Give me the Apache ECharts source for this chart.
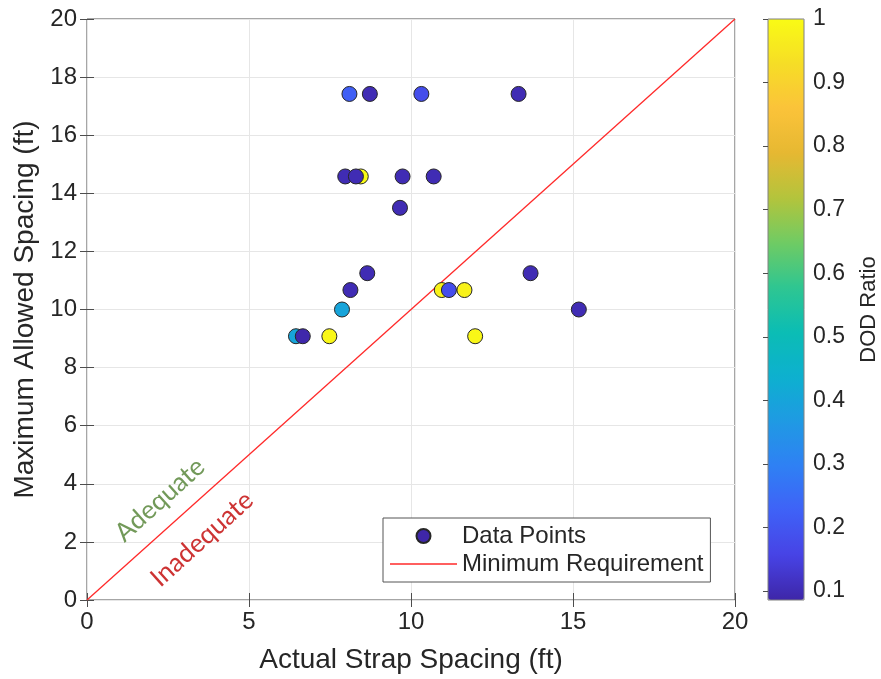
<!DOCTYPE html>
<html>
<head>
<meta charset="utf-8">
<script src="https://cdn.jsdelivr.net/npm/echarts@6/dist/echarts.min.js"></script>
<style>
  html, body { margin: 0; padding: 0; background: #fff; }
  #chart { width: 881px; height: 679px; }
</style>
</head>
<body>
<div id="chart"></div>
<script>
// données
const spacingActual = [8.10, 8.73, 10.32, 13.32, 7.97, 8.45, 8.30, 9.74, 10.70, 9.66, 8.65, 13.69, 8.13, 10.95, 11.17, 11.65, 7.87, 15.18, 6.45, 6.66, 7.48, 11.98];
const spacingAllowed = [17.42, 17.42, 17.42, 17.42, 14.58, 14.58, 14.58, 14.58, 14.58, 13.50, 11.25, 11.25, 10.67, 10.67, 10.67, 10.67, 10.00, 10.00, 9.08, 9.08, 9.08, 9.08];
const dodRatio = [0.22, 0.10, 0.18, 0.10, 0.10, 1.00, 0.10, 0.10, 0.10, 0.10, 0.10, 0.10, 0.10, 0.98, 0.18, 0.98, 0.40, 0.10, 0.40, 0.09, 0.99, 0.99];

const reqX = [0, 20];
const reqY = [0, 20];

const zoneNames = ['Adequate', 'Inadequate'];
const zoneX = [2.25, 3.55];
const zoneY = [3.45, 2.10];
const zoneColors = ['#4f7f2f', '#c00000'];

const dodTicks = [0.1, 0.2, 0.3, 0.4, 0.5, 0.6, 0.7, 0.8, 0.9, 1];
const dodMin = 0.086;
const dodMax = 1;

// palette type parula
const parula = ['#3e26a8', '#4743e5', '#3f62f7', '#2f80f4', '#1f9ae3', '#0db0cf', '#0bbdb4', '#2fc691', '#70cb63', '#b4c43c', '#e6b832', '#fbc33a', '#f6dd26', '#f9fb15'];

const points = spacingActual.map((x, i) => [x, spacingAllowed[i], dodRatio[i]]);
const reqLine = reqX.map((x, i) => [x, reqY[i]]);
const zoneLabels = zoneNames.map((n, i) => ({ value: [zoneX[i], zoneY[i]], name: n, color: zoneColors[i] }));

const font = 'Liberation Sans';
const axisCol = '#4d4d4d';
const textCol = '#262626';

const chart = echarts.init(document.getElementById('chart'));

const option = {
    animation: false,
    textStyle: { fontFamily: font },
    grid: [
        { left: 87, top: 19, width: 648, height: 582, show: true, borderColor: axisCol, borderWidth: 1, backgroundColor: '#fff' },
        { left: 768, top: 19, width: 36, height: 581, show: true, borderColor: '#808080', borderWidth: 1, backgroundColor: 'rgba(0,0,0,0)', z: 10 }
    ],
    xAxis: [
        {
            gridIndex: 0, type: 'value', min: 0, max: 20, interval: 5,
            name: 'Actual Strap Spacing (ft)', nameLocation: 'middle', nameGap: 46,
            nameTextStyle: { fontSize: 28, color: textCol, fontFamily: font },
            axisLine: { show: false },
            axisTick: { inside: true, length: 7, lineStyle: { color: axisCol } },
            axisLabel: { fontSize: 24, color: textCol, margin: 10, fontFamily: font },
            splitLine: { lineStyle: { color: '#e6e6e6' } }
        },
        {
            gridIndex: 0, type: 'value', position: 'top', min: 0, max: 20, interval: 5,
            axisLine: { show: false },
            axisTick: { inside: true, length: 7, lineStyle: { color: axisCol } },
            axisLabel: { show: false },
            splitLine: { show: false }
        },
        {
            gridIndex: 1, type: 'value', show: false, min: 0, max: 1
        }
    ],
    yAxis: [
        {
            gridIndex: 0, type: 'value', min: 0, max: 20, interval: 2,
            name: 'Maximum Allowed Spacing (ft)', nameLocation: 'middle', nameGap: 44,
            nameTextStyle: { fontSize: 28, color: textCol, fontFamily: font },
            axisLine: { show: false },
            axisTick: { inside: true, length: 7, lineStyle: { color: axisCol } },
            axisLabel: { fontSize: 24, color: textCol, margin: 10, fontFamily: font },
            splitLine: { lineStyle: { color: '#e6e6e6' } }
        },
        {
            gridIndex: 0, type: 'value', position: 'right', min: 0, max: 20, interval: 2,
            axisLine: { show: false },
            axisTick: { inside: true, length: 7, lineStyle: { color: axisCol } },
            axisLabel: { show: false },
            splitLine: { show: false }
        },
        {
            gridIndex: 1, type: 'value', position: 'right', min: dodMin, max: dodMax,
            name: 'DOD Ratio', nameLocation: 'middle', nameRotate: 90, nameGap: 54,
            nameTextStyle: { fontSize: 22, color: textCol, fontFamily: font },
            axisLine: { show: false },
            axisTick: { inside: true, length: 5, customValues: dodTicks, lineStyle: { color: axisCol } },
            axisLabel: { customValues: dodTicks, fontSize: 23, color: textCol, margin: 9, fontFamily: font },
            splitLine: { show: false },
            z: 10
        }
    ],
    visualMap: {
        type: 'continuous',
        seriesIndex: 0,
        dimension: 2,
        min: dodMin,
        max: dodMax,
        left: 768,
        top: 19,
        padding: 0,
        itemWidth: 36,
        itemHeight: 581,
        calculable: false,
        hoverLink: false,
        text: ['', ''],
        showLabel: false,
        inRange: { color: parula }
    },
    legend: {
        orient: 'vertical',
        left: 383,
        top: 518,
        padding: [5, 7, 5, 7],
        itemWidth: 67,
        itemHeight: 14,
        itemGap: 2,
        backgroundColor: '#fff',
        borderColor: '#555',
        borderWidth: 1,
        borderRadius: 0,
        textStyle: { fontSize: 24, color: textCol, fontFamily: font, lineHeight: 26 },
        data: [
            { name: 'Data Points', icon: 'circle' },
            { name: 'Minimum Requirement', icon: 'path://M0,0 L67,0 L67,1.3 L0,1.3 Z' }
        ]
    },
    series: [
        {
            name: 'Data Points',
            type: 'scatter',
            xAxisIndex: 0, yAxisIndex: 0,
            symbolSize: 15,
            z: 3,
            itemStyle: { color: '#3e26a8', borderColor: '#262626', borderWidth: 1, opacity: 1 },
            data: points
        },
        {
            name: 'Minimum Requirement',
            type: 'line',
            xAxisIndex: 0, yAxisIndex: 0,
            symbol: 'none',
            z: 2,
            lineStyle: { color: '#ff2a2a', width: 1.3 },
            itemStyle: { color: '#ff2a2a' },
            data: reqLine
        },
        {
            name: 'zones',
            type: 'scatter',
            xAxisIndex: 0, yAxisIndex: 0,
            symbolSize: 0,
            silent: true,
            z: 4,
            label: {
                show: true,
                position: 'inside',
                rotate: 42,
                fontSize: 26,
                fontFamily: 'Lato',
                formatter: p => p.name
            },
            data: zoneLabels.map(d => ({ value: d.value, name: d.name, label: { color: d.color } }))
        }
    ]
};

chart.setOption(option);

window.addEventListener('resize', () => {
    chart.resize();
});
</script>
</body>
</html>
